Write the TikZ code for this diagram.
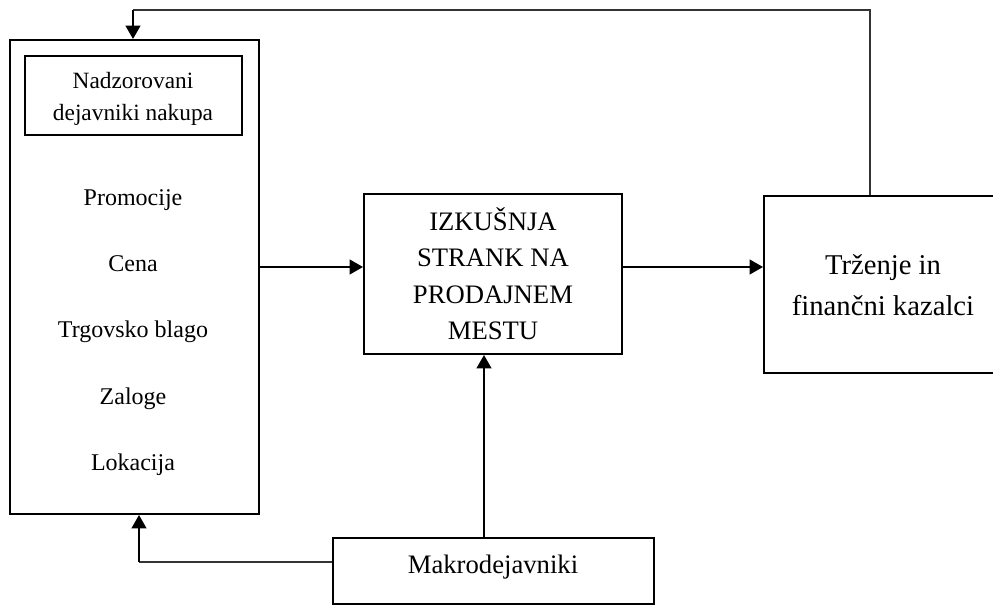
\documentclass[tikz,border=0pt]{standalone}
\usepackage{fontspec}
\setmainfont{Liberation Serif}
\usetikzlibrary{arrows.meta}
\begin{document}
\begin{tikzpicture}[x=0.75pt,y=-0.75pt,
  frame/.style={draw=black, line width=1.5pt, inner sep=0pt, shape=rectangle},
  arr/.style={draw=black, line width=1.5pt, -{Triangle[length=10pt,width=11pt]}},
  fb/.style={draw=black!80, line width=0.8pt},
  lbl/.style={anchor=base, inner sep=0pt, font=\fontsize{18}{22}\selectfont},
  lblm/.style={anchor=base, inner sep=0pt, font=\fontsize{20}{24}\selectfont},
  lblr/.style={anchor=base, inner sep=0pt, font=\fontsize{21.5}{26}\selectfont}]
\clip (0,0) rectangle (993,605);
\fill[white] (0,0) rectangle (993,605);

% boxes
\node[frame, minimum width=186.75pt, minimum height=355.5pt] (L) at (134.5,277) {};
\node[frame, minimum width=162.75pt, minimum height=59.25pt] (I) at (133.5,95.5) {};
\node[frame, minimum width=193.5pt, minimum height=120pt] (M) at (493,274) {};
\node[frame, minimum width=178.5pt, minimum height=132.75pt] (R) at (883,284.5) {};
\node[frame, minimum width=240.75pt, minimum height=49.5pt] (K) at (493.5,571) {};

% texts
\node[lbl, font=\fontsize{17.5}{21}\selectfont] (i1) at (133,89) {Nadzorovani};
\node[lbl, font=\fontsize{17.5}{21}\selectfont] (i2) at (133,121) {dejavniki nakupa};
\node[lbl] (t1) at (133,206) {Promocije};
\node[lbl] (t2) at (133,272) {Cena};
\node[lbl] (t3) at (133,338) {Trgovsko blago};
\node[lbl] (t4) at (133,405) {Zaloge};
\node[lbl] (t5) at (133,471) {Lokacija};

\node[lblm] (m1) at (493,231) {IZKUŠNJA};
\node[lblm] (m2) at (493,267) {STRANK NA};
\node[lblm] (m3) at (493,304) {PRODAJNEM};
\node[lblm] (m4) at (493,340) {MESTU};

\node[lblr] (r1) at (883,275) {Trženje in};
\node[lblr] (r2) at (883,316) {finančni kazalci};

\node[lblm] (k1) at (493,574) {Makrodejavniki};

% connectors
\coordinate (h) at (0,267);
\draw[arr] (L.east |- h) -- (M.west |- h);
\draw[arr] (M.east |- h) -- (R.west |- h);

\coordinate (tr) at (870,10);
\coordinate (tl) at (133,10);
\draw[fb] (R.north -| tr) -- (tr) -- (tl);
\draw[arr] (tl) -- (L.north -| tl);

\coordinate (ku) at (484,0);
\draw[arr] (K.north -| ku) -- (M.south -| ku);

\coordinate (bl) at (139,562);
\draw[fb] (K.west |- bl) -- (bl);
\draw[arr] (bl) -- (L.south -| bl);
\end{tikzpicture}
\end{document}
